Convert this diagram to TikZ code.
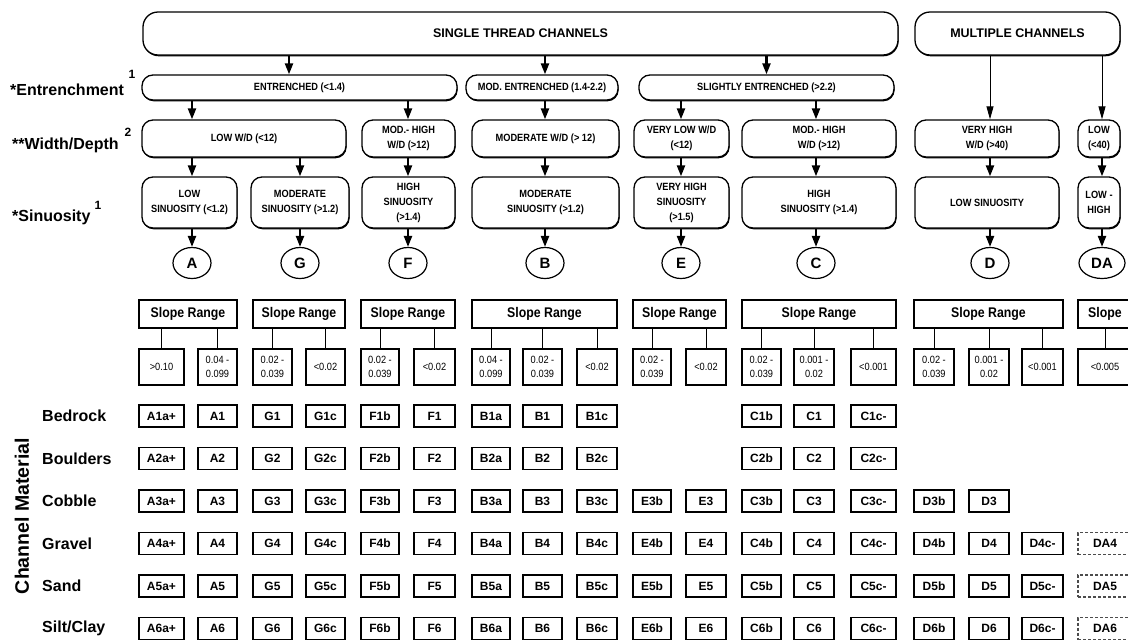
\documentclass[tikz,border=0pt]{standalone}
\usepackage{fontspec}
\setmainfont{Liberation Sans}
\newfontfamily\cond[FakeStretch=0.88]{Liberation Sans}
\usetikzlibrary{arrows.meta,shapes.geometric,shadows}
\newcommand\mkbox[7]{\node[#1,minimum width={(#4)-(#3)},minimum height={(#6)-(#5)}] (#2) at ({((#3)+(#4))/2},{((#5)+(#6))/2}) {#7};}
\newcommand\gcol[6]{\foreach \r in {#5}{\mkbox{#1}{g#2\r}{#3}{#4}{405+42.5*(\r-1)}{427+42.5*(\r-1)}{#6}}}
\begin{document}
\begin{tikzpicture}[x=1pt,y=-1pt,
 rb/.style={draw,line width=1.3pt,rounded corners=11pt,fill=white,align=center,inner sep=1pt,
   font=\cond\bfseries\fontsize{10.5}{15}\selectfont,
   drop shadow={shadow xshift=0.6pt,shadow yshift=-1.3pt,opacity=1,fill=black}},
 hb/.style={rb,rounded corners=15pt,font=\bfseries\fontsize{12.5}{14}\selectfont},
 sb/.style={draw,line width=1.1pt,fill=white,inner sep=0pt,font=\cond\bfseries\fontsize{14}{16}\selectfont},
 vb/.style={draw,line width=1.1pt,inner sep=0pt,align=center,font=\cond\fontsize{10.5}{14}\selectfont},
 gb/.style={draw,line width=1.2pt,inner sep=0pt,font=\bfseries\fontsize{12}{14}\selectfont},
 gbd/.style={gb,densely dashed,draw=black!70},
 circ/.style={draw,ellipse,line width=1.2pt,minimum width=38,minimum height=31,inner sep=0pt,font=\bfseries\fontsize{15}{15}\selectfont},
 fat/.style={line width=2.2pt,-{Triangle[width=8pt,length=11pt]}},
 thinar/.style={line width=0.9pt,-{Triangle[width=7pt,length=13pt]}},
 link/.style={line width=0.8pt},
 lab/.style={font=\bfseries\fontsize{16}{18}\selectfont,inner sep=0pt,anchor=west},
 sup/.style={font=\bfseries\fontsize{12}{12}\selectfont,inner sep=0pt},
]
\useasboundingbox (0,0) rectangle (1128,643);
\fill[white] (0,0) rectangle (1128,643);
\clip (0,0) rectangle (1128,643);

% left labels
\node[lab] (lent) at (10,90) {*Entrenchment};
\node[sup] (s1) at (132,74) {1};
\node[lab] (lwd) at (12,145) {**Width/Depth};
\node[sup] (s2) at (128,132) {2};
\node[lab] (lsi) at (12,217) {*Sinuosity};
\node[sup] (s3) at (98,205) {1};

% headings
\mkbox{hb}{single}{143}{898}{12}{55}{SINGLE THREAD CHANNELS}
\mkbox{hb}{multi}{915}{1120}{12}{55}{MULTIPLE CHANNELS}

% entrenchment
\mkbox{rb}{en1}{142}{457}{75}{100}{ENTRENCHED (<1.4)}
\mkbox{rb}{en2}{466}{618}{75}{100}{MOD. ENTRENCHED (1.4-2.2)}
\mkbox{rb}{en3}{639}{894}{75}{100}{SLIGHTLY ENTRENCHED (>2.2)}

% width/depth
\mkbox{rb}{wd1}{142}{346}{120}{157}{LOW W/D (<12)}
\mkbox{rb}{wd2}{362}{455}{120}{157}{MOD.- HIGH\\W/D (>12)}
\mkbox{rb}{wd3}{472}{619}{120}{157}{MODERATE W/D (> 12)}
\mkbox{rb}{wd4}{634}{729}{120}{157}{VERY LOW W/D\\(<12)}
\mkbox{rb}{wd5}{742}{896}{120}{157}{MOD.- HIGH\\W/D (>12)}
\mkbox{rb}{wd6}{915}{1059}{120}{157}{VERY HIGH\\W/D (>40)}
\mkbox{rb}{wd7}{1078}{1120}{120}{157}{LOW\\(<40)}

% sinuosity
\mkbox{rb}{si1}{142}{237}{177}{228}{LOW\\SINUOSITY (<1.2)}
\mkbox{rb}{si2}{251}{349}{177}{228}{MODERATE\\SINUOSITY (>1.2)}
\mkbox{rb}{si3}{362}{455}{177}{228}{HIGH\\SINUOSITY\\(>1.4)}
\mkbox{rb}{si4}{472}{619}{177}{228}{MODERATE\\SINUOSITY (>1.2)}
\mkbox{rb}{si5}{634}{729}{177}{228}{VERY HIGH\\SINUOSITY\\(>1.5)}
\mkbox{rb}{si6}{742}{896}{177}{228}{HIGH\\SINUOSITY (>1.4)}
\mkbox{rb}{si7}{915}{1059}{177}{228}{LOW SINUOSITY}
\mkbox{rb}{si8}{1078}{1120}{177}{228}{LOW -\\HIGH}

% stream types
\node[circ] (cA) at (192,263) {A};
\node[circ] (cG) at (300,263) {G};
\node[circ] (cF) at (408,263) {F};
\node[circ] (cB) at (545,263) {B};
\node[circ] (cE) at (681,263) {E};
\node[circ] (cC) at (816,263) {C};
\node[circ] (cD) at (990,263) {D};
\node[circ,minimum width=46] (cDA) at (1102,263) {DA};

\coordinate (k1) at (289,65);

% arrows
\draw[fat] (single.south -| k1) -- (en1.north -| k1);
\draw[fat] (single.south -| cB) -- (en2.north -| cB);
\draw[fat] (single.south -| en3) -- (en3.north);
\draw[thinar] (multi.south -| cD) -- (wd6.north -| cD);
\draw[thinar] (multi.south -| cDA) -- (wd7.north -| cDA);

\draw[fat] (en1.south -| cA) -- (wd1.north -| cA);
\draw[fat] (en1.south -| cF) -- (wd2.north -| cF);
\draw[fat] (en2.south -| cB) -- (wd3.north -| cB);
\draw[fat] (en3.south -| cE) -- (wd4.north -| cE);
\draw[fat] (en3.south -| cC) -- (wd5.north -| cC);

\draw[fat] (wd1.south -| cA) -- (si1.north -| cA);
\draw[fat] (wd1.south -| cG) -- (si2.north -| cG);
\draw[fat] (wd2.south -| cF) -- (si3.north -| cF);
\draw[fat] (wd3.south -| cB) -- (si4.north -| cB);
\draw[fat] (wd4.south -| cE) -- (si5.north -| cE);
\draw[fat] (wd5.south -| cC) -- (si6.north -| cC);
\draw[fat] (wd6.south -| cD) -- (si7.north -| cD);
\draw[fat] (wd7.south -| cDA) -- (si8.north -| cDA);

\draw[fat] (si1.south -| cA) -- (cA.north);
\draw[fat] (si2.south -| cG) -- (cG.north);
\draw[fat] (si3.south -| cF) -- (cF.north);
\draw[fat] (si4.south -| cB) -- (cB.north);
\draw[fat] (si5.south -| cE) -- (cE.north);
\draw[fat] (si6.south -| cC) -- (cC.north);
\draw[fat] (si7.south -| cD) -- (cD.north);
\draw[fat] (si8.south -| cDA) -- (cDA.north);

% slope ranges
\mkbox{sb}{sA}{139}{237}{300}{328}{Slope Range}
\mkbox{sb}{sG}{253}{345}{300}{328}{Slope Range}
\mkbox{sb}{sF}{361}{455}{300}{328}{Slope Range}
\mkbox{sb}{sB}{472}{617}{300}{328}{Slope Range}
\mkbox{sb}{sE}{633}{726}{300}{328}{Slope Range}
\mkbox{sb}{sC}{742}{896}{300}{328}{Slope Range}
\mkbox{sb}{sD}{914}{1063}{300}{328}{Slope Range}
\mkbox{sb}{sDA}{1078}{1132}{300}{328}{Slope}

\mkbox{vb}{vA1}{139}{184}{349}{385}{>0.10}
\mkbox{vb}{vA2}{198}{237}{349}{385}{0.04 -\\0.099}
\mkbox{vb}{vG1}{253}{292}{349}{385}{0.02 -\\0.039}
\mkbox{vb}{vG2}{306}{345}{349}{385}{<0.02}
\mkbox{vb}{vF1}{361}{399}{349}{385}{0.02 -\\0.039}
\mkbox{vb}{vF2}{414}{455}{349}{385}{<0.02}
\mkbox{vb}{vB1}{472}{510}{349}{385}{0.04 -\\0.099}
\mkbox{vb}{vB2}{523}{562}{349}{385}{0.02 -\\0.039}
\mkbox{vb}{vB3}{577}{617}{349}{385}{<0.02}
\mkbox{vb}{vE1}{633}{671}{349}{385}{0.02 -\\0.039}
\mkbox{vb}{vE2}{686}{726}{349}{385}{<0.02}
\mkbox{vb}{vC1}{742}{781}{349}{385}{0.02 -\\0.039}
\mkbox{vb}{vC2}{794}{834}{349}{385}{0.001 -\\0.02}
\mkbox{vb}{vC3}{851}{896}{349}{385}{<0.001}
\mkbox{vb}{vD1}{914}{954}{349}{385}{0.02 -\\0.039}
\mkbox{vb}{vD2}{969}{1009}{349}{385}{0.001 -\\0.02}
\mkbox{vb}{vD3}{1022}{1063}{349}{385}{<0.001}
\mkbox{vb}{vDA}{1078}{1132}{349}{385}{<0.005}

\foreach \s/\v in {sA/vA1,sA/vA2,sG/vG1,sG/vG2,sF/vF1,sF/vF2,sB/vB1,sB/vB2,sB/vB3,sE/vE1,sE/vE2,sC/vC1,sC/vC2,sC/vC3,sD/vD1,sD/vD2,sD/vD3,sDA/vDA}
  {\draw[link] (\s.south -| \v) -- (\v.north);}

% channel material
\node[font=\bfseries\fontsize{19.5}{20}\selectfont,rotate=90,inner sep=0pt] (cm) at (22,516) {Channel Material};
\node[lab] (r1) at (42,416) {Bedrock};
\node[lab] (r2) at (42,458.5) {Boulders};
\node[lab] (r3) at (42,501) {Cobble};
\node[lab] (r4) at (42,543.5) {Gravel};
\node[lab] (r5) at (42,586) {Sand};
\node[lab] (r6) at (42,628.5) {Silt/Clay};

\gcol{gb}{a}{139}{184}{1,...,6}{A\r a+}
\gcol{gb}{b}{198}{237}{1,...,6}{A\r}
\gcol{gb}{c}{253}{292}{1,...,6}{G\r}
\gcol{gb}{d}{306}{345}{1,...,6}{G\r c}
\gcol{gb}{e}{361}{399}{1,...,6}{F\r b}
\gcol{gb}{f}{414}{455}{1,...,6}{F\r}
\gcol{gb}{g}{472}{510}{1,...,6}{B\r a}
\gcol{gb}{h}{523}{562}{1,...,6}{B\r}
\gcol{gb}{i}{577}{617}{1,...,6}{B\r c}
\gcol{gb}{j}{633}{671}{3,...,6}{E\r b}
\gcol{gb}{k}{686}{726}{3,...,6}{E\r}
\gcol{gb}{l}{742}{781}{1,...,6}{C\r b}
\gcol{gb}{m}{794}{834}{1,...,6}{C\r}
\gcol{gb}{n}{851}{896}{1,...,6}{C\r c-}
\gcol{gb}{o}{914}{954}{3,...,6}{D\r b}
\gcol{gb}{p}{969}{1009}{3,...,6}{D\r}
\gcol{gb}{q}{1022}{1063}{4,5,6}{D\r c-}
\gcol{gbd}{z}{1078}{1132}{4,5,6}{DA\r}
\end{tikzpicture}
\end{document}
